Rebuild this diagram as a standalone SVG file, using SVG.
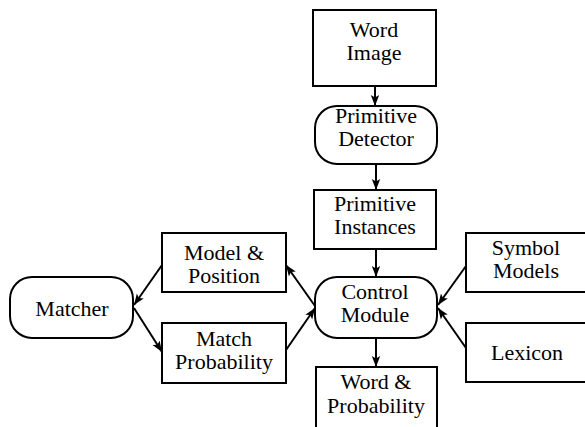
<svg xmlns="http://www.w3.org/2000/svg" width="585" height="427" viewBox="0 0 585 427" font-family="Liberation Serif, DejaVu Serif, Times New Roman, serif">
  <style>
    .box { fill: #fff; stroke: #000; stroke-width: 2; }
    .lbl { font-size: 22px; fill: #000; text-anchor: middle; }
    .edge { fill: none; stroke: #000; stroke-width: 2; marker-end: url(#arrow); }
  </style>
  <defs>
    <marker id="arrow" markerUnits="userSpaceOnUse" markerWidth="14" markerHeight="12" refX="11" refY="5" orient="auto">
      <path d="M0,0.8 L11,5 L0,9.2 L2.5,5 Z" fill="#000"/>
    </marker>
  </defs>
  <rect width="585" height="427" fill="#fff"/>

  <g id="connectors">
    <path class="edge" d="M375,86 L375,106"/>
    <path class="edge" d="M376,164 L376,190"/>
    <path class="edge" d="M376,249 L376,277"/>
    <path class="edge" d="M376,338 L376,367"/>
    <path class="edge" d="M466,266 L438,305"/>
    <path class="edge" d="M466,348 L438,308"/>
    <path class="edge" d="M315,306 L286,265"/>
    <path class="edge" d="M286,350 L315,308"/>
    <path class="edge" d="M162,265 L134,305"/>
    <path class="edge" d="M134,308 L162,352"/>
  </g>

  <g id="word-image">
    <rect class="box" x="313" y="10" width="123" height="76"/>
    <text class="lbl" x="374" y="37">Word</text>
    <text class="lbl" x="374" y="60">Image</text>
  </g>

  <g id="primitive-detector">
    <rect class="box" x="315" y="106" width="122" height="58" rx="22" ry="22"/>
    <text class="lbl" x="376" y="123">Primitive</text>
    <text class="lbl" x="376" y="146">Detector</text>
  </g>

  <g id="primitive-instances">
    <rect class="box" x="314" y="190" width="122" height="59"/>
    <text class="lbl" x="375" y="211">Primitive</text>
    <text class="lbl" x="375" y="234">Instances</text>
  </g>

  <g id="control-module">
    <rect class="box" x="315" y="277" width="122" height="61" rx="22" ry="22"/>
    <text class="lbl" x="375" y="299">Control</text>
    <text class="lbl" x="375" y="322">Module</text>
  </g>

  <g id="word-probability">
    <rect class="box" x="316" y="367" width="121" height="80"/>
    <text class="lbl" x="376" y="389">Word &amp;</text>
    <text class="lbl" x="376" y="413">Probability</text>
  </g>

  <g id="model-position">
    <rect class="box" x="162" y="233" width="124" height="59"/>
    <text class="lbl" x="224" y="260">Model &amp;</text>
    <text class="lbl" x="224" y="283">Position</text>
  </g>

  <g id="match-probability">
    <rect class="box" x="162" y="323" width="124" height="60"/>
    <text class="lbl" x="224" y="346">Match</text>
    <text class="lbl" x="224" y="369">Probability</text>
  </g>

  <g id="matcher">
    <rect class="box" x="10" y="277" width="123" height="61" rx="22" ry="22"/>
    <text class="lbl" x="72" y="316">Matcher</text>
  </g>

  <g id="symbol-models">
    <rect class="box" x="466" y="233" width="130" height="59"/>
    <text class="lbl" x="526" y="255">Symbol</text>
    <text class="lbl" x="526" y="278">Models</text>
  </g>

  <g id="lexicon">
    <rect class="box" x="466" y="323" width="130" height="59"/>
    <text class="lbl" x="527" y="360">Lexicon</text>
  </g>
</svg>
